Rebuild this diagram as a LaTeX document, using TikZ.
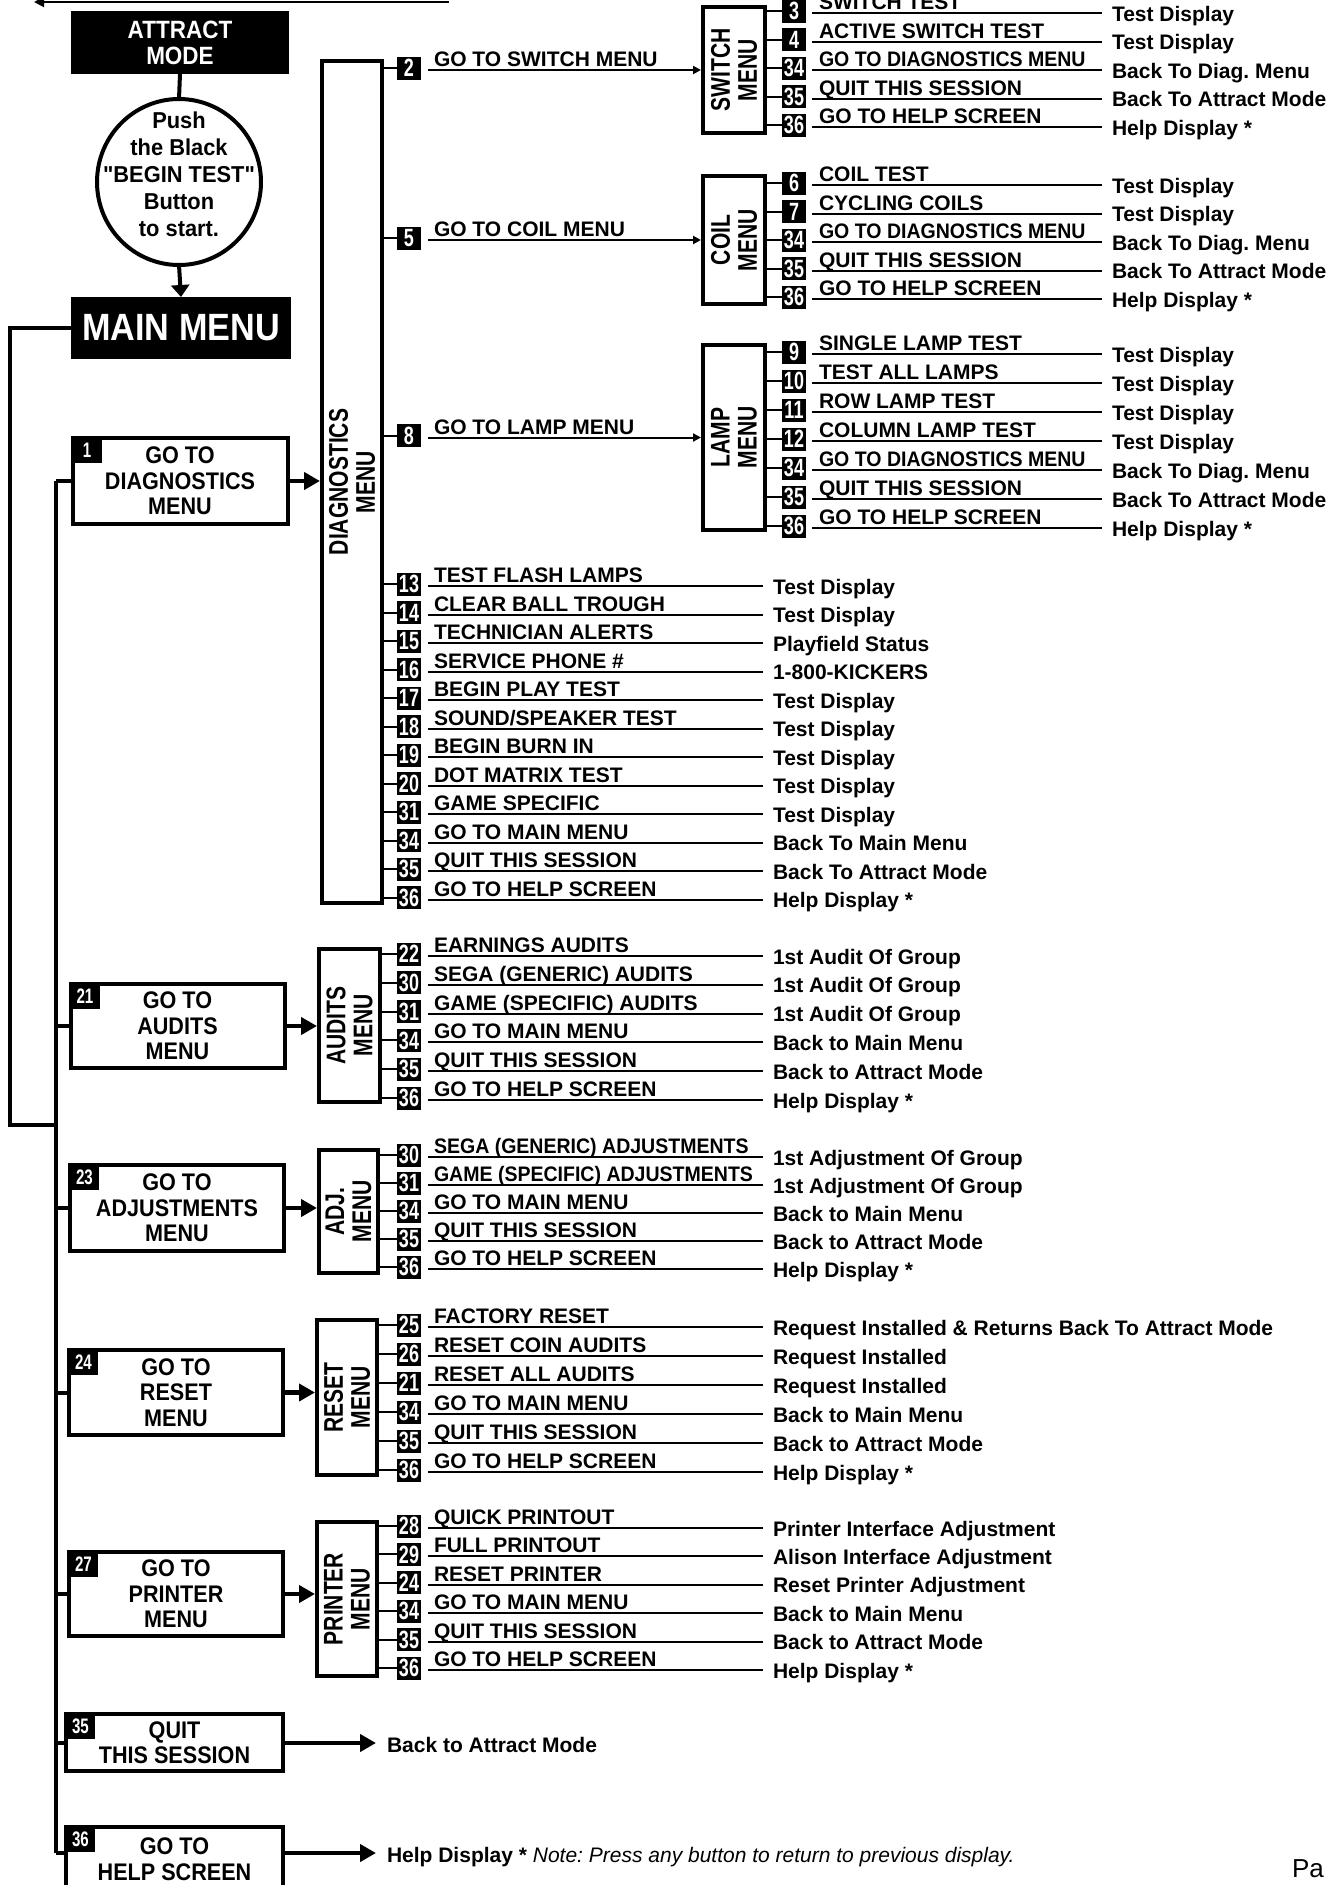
\documentclass[tikz,border=0pt]{standalone}
\usepackage{fontspec}
\setmainfont{Liberation Sans}
\frenchspacing
\newfontfamily\fcA{Liberation Sans}[FakeStretch=0.90]
\newfontfamily\fcB{Liberation Sans}[FakeStretch=0.78]
\newfontfamily\fcC{Liberation Sans}[FakeStretch=0.72]
\newfontfamily\fcD{Liberation Sans}[FakeStretch=0.95]
\newfontfamily\fcE{Liberation Sans}[FakeStretch=0.93]
\usetikzlibrary{arrows.meta,shapes.geometric}
\tikzset{
  every node/.style={inner sep=0pt,outer sep=0pt},
  gobox/.style={draw,line width=4pt,align=center,minimum width=214pt,minimum height=85pt,font=\fcA\bfseries\fontsize{24}{25.5}\selectfont},
  gobadge/.style={fill=black,text=white,anchor=north west,minimum width=29pt,minimum height=25pt,font=\fcC\bfseries\fontsize{21}{21}\selectfont},
  menubox/.style={draw,line width=4pt},
  menulbl/.style={rotate=90,align=center,font=\fcB\bfseries\fontsize{27}{27}\selectfont},
  nbadge/.style={fill=black,text=white,minimum width=24pt,minimum height=23pt,font=\fcC\bfseries\fontsize{25}{25}\selectfont},
  itemtxt/.style={anchor=base west,font=\bfseries\fontsize{21}{21}\selectfont},
  restxt/.style={anchor=base west,font=\bfseries\fontsize{21}{21}\selectfont},
  uline/.style={line width=2pt,shorten >=10pt},
  tickln/.style={line width=2pt},
  conn/.style={line width=4pt,line join=miter},
  bigarr/.style={line width=4.5pt,shorten >=2pt,-{Triangle[length=16pt,width=17pt]}},
  smarr/.style={line width=2pt,shorten >=2pt,-{Triangle[length=8pt,width=8pt]}},
}
\newcommand\mrow[6]{%
  \node[nbadge] (#1n#2) at (\bxc,#3-2) {#4};
  \draw[tickln] (#1n#2.west -| #1.east) -- (#1n#2.west);
  \node[restxt] (#1r#2) at (\rx,#3+8) {#6};
  \coordinate (#1u#2) at (\ulx,#3);
  \draw[uline] (#1u#2) -- (#1u#2 -| #1r#2.west);
  \node[itemtxt] (#1t#2) at (\tx,#3-3.5) {#5};
}
\newcommand\arow[6]{%
  \node[nbadge] (#1n#2) at (\bxc,#3-2) {#4};
  \draw[tickln] (#1n#2.west -| #1.east) -- (#1n#2.west);
  \coordinate (#1u#2) at (\ulx,#3);
  \draw[smarr] (#1u#2) -- (#1u#2 -| #6.west);
  \node[itemtxt] (#1t#2) at (\tx,#3-3.5) {#5};
}
\begin{document}
\begin{tikzpicture}[x=1pt,y=-1pt]
\useasboundingbox (0,0) rectangle (1333,1885);
\fill[white] (0,0) rectangle (1333,1885);

% partial line at the top
\coordinate (topR) at (449,2);
\coordinate (topL) at (34,2);
\draw[line width=2pt,-{Triangle[length=10pt,width=10pt]}] (topR) -- (topL);

% start
\node[fill=black,text=white,minimum width=218pt,minimum height=63pt,align=center,font=\fcA\bfseries\fontsize{25}{26}\selectfont] (attract) at (180,42.5) {ATTRACT\\MODE};
\node[draw,line width=4pt,ellipse,minimum width=164pt,minimum height=166pt] (push) at (179,182) {};
\node[align=center,font=\fcD\bfseries\fontsize{23}{27}\selectfont] (pushtxt) at (179,174) {Push\\the Black\\"BEGIN TEST"\\Button\\to start.};
\node[fill=black,text=white,minimum width=220pt,minimum height=62pt,font=\fcA\bfseries\fontsize{38}{38}\selectfont] (mainmenu) at (181,328) {MAIN MENU};
\draw[conn] (attract.south) -- (push.north);
\draw[line width=4pt,-{Triangle[length=12pt,width=18pt]}] (push.south) -- (mainmenu.north);

% go-to boxes
\node[gobox,minimum width=215pt,minimum height=86pt] (gdiag) at (180,481) {GO TO\\DIAGNOSTICS\\MENU};
\node[gobox,minimum height=84pt] (gaud) at (177.5,1026) {GO TO\\AUDITS\\MENU};
\node[gobox,minimum height=86pt] (gadj) at (177,1208) {GO TO\\ADJUSTMENTS\\MENU};
\node[gobox] (gres) at (176,1392.5) {GO TO\\RESET\\MENU};
\node[gobox,minimum height=84pt] (gpri) at (176,1594) {GO TO\\PRINTER\\MENU};
\node[gobox,minimum width=217pt,minimum height=57pt] (gquit) at (174.5,1742.5) {QUIT\\THIS SESSION};
\node[gobox,minimum width=217pt,minimum height=64pt] (ghelp) at (174.5,1859) {GO TO\\HELP SCREEN};
\node[gobadge] (gdiagb) at (gdiag.north west) {1};
\node[gobadge] (gaudb) at (gaud.north west) {21};
\node[gobadge] (gadjb) at (gadj.north west) {23};
\node[gobadge] (gresb) at (gres.north west) {24};
\node[gobadge] (gprib) at (gpri.north west) {27};
\node[gobadge] (gquitb) at (gquit.north west) {35};
\node[gobadge] (ghelpb) at (ghelp.north west) {36};

% left connectors
\coordinate (ivT) at (56,481);
\coordinate (ivB) at (56,1853);
\coordinate (olA) at (10,328);
\coordinate (olB) at (10,1125);
\coordinate (olC) at (56,1125);
\draw[conn] (mainmenu.west) -- (olA) -- (olB) -- (olC);
\draw[conn] (ivT) -- (ivB);
\draw[conn] (ivT) -- (gdiag.west);
\draw[conn] (gaud.west -| ivT) -- (gaud.west);
\draw[conn] (gadj.west -| ivT) -- (gadj.west);
\draw[conn] (gres.west -| ivT) -- (gres.west);
\draw[conn] (gpri.west -| ivT) -- (gpri.west);
\draw[conn] (gquit.west -| ivT) -- (gquit.west);
\draw[conn] (ivB) -- (ivB -| ghelp.west);

% menu boxes
\node[menubox,minimum width=60pt,minimum height=842pt] (mdg) at (352,482) {};
\node[menulbl] (mdgl) at (mdg) {DIAGNOSTICS\\MENU};
\node[menubox,minimum width=62pt,minimum height=126pt] (msw) at (734,70) {};
\node[menulbl] (mswl) at (msw) {SWITCH\\MENU};
\node[menubox,minimum width=62pt,minimum height=128pt] (mco) at (734,240) {};
\node[menulbl] (mcol) at (mco) {COIL\\MENU};
\node[menubox,minimum width=62pt,minimum height=185pt] (mla) at (734,437.5) {};
\node[menulbl] (mlal) at (mla) {LAMP\\MENU};
\node[menubox,minimum width=61pt,minimum height=153pt] (mau) at (349.5,1025.5) {};
\node[menulbl] (maul) at (mau) {AUDITS\\MENU};
\node[menubox,minimum width=59pt,minimum height=123pt] (mad) at (348.5,1211.5) {};
\node[menulbl] (madl) at (mad) {ADJ.\\MENU};
\node[menubox,minimum width=60pt,minimum height=155pt] (mre) at (347,1397.5) {};
\node[menulbl] (mrel) at (mre) {RESET\\MENU};
\node[menubox,minimum width=60pt,minimum height=154pt] (mpr) at (347,1599) {};
\node[menulbl] (mprl) at (mpr) {PRINTER\\MENU};

% main arrows
\draw[bigarr] (gdiag.east) -- (gdiag.east -| mdg.west);
\draw[bigarr] (gaud.east) -- (gaud.east -| mau.west);
\draw[bigarr] (gadj.east) -- (gadj.east -| mad.west);
\draw[bigarr] (gres.east) -- (gres.east -| mre.west);
\draw[bigarr] (gpri.east) -- (gpri.east -| mpr.west);
\coordinate (qend) at (376,1743);
\coordinate (hend) at (376,1853);
\draw[bigarr,shorten >=0pt] (qend -| gquit.east) -- (qend);
\draw[bigarr,shorten >=0pt] (hend -| ghelp.east) -- (hend);
\node[restxt] (qtxt) at (387,1752) {Back to Attract Mode};
\node[restxt] (htxt) at (387,1862) {Help Display * {\mdseries\itshape\fontsize{21}{21}\selectfont Note: Press any button to return to previous display.}};
\node[anchor=base west,font=\fontsize{26}{26}\selectfont] (pagetxt) at (1292,1877) {Pa};

% diagnostics rows
\def\bxc{409}\def\ulx{428}\def\tx{434}\def\rx{773}
\arow{mdg}{a}{70}{2}{GO TO SWITCH MENU}{msw}
\arow{mdg}{b}{240}{5}{GO TO COIL MENU}{mco}
\arow{mdg}{c}{437.5}{8}{GO TO LAMP MENU}{mla}
\mrow{mdg}{1}{586}{13}{TEST FLASH LAMPS}{Test Display}
\mrow{mdg}{2}{614.5}{14}{CLEAR BALL TROUGH}{Test Display}
\mrow{mdg}{3}{643}{15}{TECHNICIAN ALERTS}{Playfield Status}
\mrow{mdg}{4}{671.5}{16}{SERVICE PHONE \#}{1-800-KICKERS}
\mrow{mdg}{5}{700}{17}{BEGIN PLAY TEST}{Test Display}
\mrow{mdg}{6}{728.5}{18}{SOUND/SPEAKER TEST}{Test Display}
\mrow{mdg}{7}{757}{19}{BEGIN BURN IN}{Test Display}
\mrow{mdg}{8}{785.5}{20}{DOT MATRIX TEST}{Test Display}
\mrow{mdg}{9}{814}{31}{GAME SPECIFIC}{Test Display}
\mrow{mdg}{10}{842.5}{34}{GO TO MAIN MENU}{Back To Main Menu}
\mrow{mdg}{11}{871}{35}{QUIT THIS SESSION}{Back To Attract Mode}
\mrow{mdg}{12}{899.5}{36}{GO TO HELP SCREEN}{Help Display *}

% audits rows
\mrow{mau}{1}{956}{22}{EARNINGS AUDITS}{1st Audit Of Group}
\mrow{mau}{2}{984.8}{30}{SEGA (GENERIC) AUDITS}{1st Audit Of Group}
\mrow{mau}{3}{1013.6}{31}{GAME (SPECIFIC) AUDITS}{1st Audit Of Group}
\mrow{mau}{4}{1042.4}{34}{GO TO MAIN MENU}{Back to Main Menu}
\mrow{mau}{5}{1071.2}{35}{QUIT THIS SESSION}{Back to Attract Mode}
\mrow{mau}{6}{1100}{36}{GO TO HELP SCREEN}{Help Display *}

% adjustments rows
\mrow{mad}{1}{1157}{30}{{\fcE\bfseries SEGA (GENERIC) ADJUSTMENTS}}{1st Adjustment Of Group}
\mrow{mad}{2}{1185}{31}{{\fcE\bfseries GAME (SPECIFIC) ADJUSTMENTS}}{1st Adjustment Of Group}
\mrow{mad}{3}{1213}{34}{GO TO MAIN MENU}{Back to Main Menu}
\mrow{mad}{4}{1241}{35}{QUIT THIS SESSION}{Back to Attract Mode}
\mrow{mad}{5}{1269}{36}{GO TO HELP SCREEN}{Help Display *}

% reset rows
\mrow{mre}{1}{1327}{25}{FACTORY RESET}{Request Installed \& Returns Back To Attract Mode}
\mrow{mre}{2}{1356}{26}{RESET COIN AUDITS}{Request Installed}
\mrow{mre}{3}{1385}{21}{RESET ALL AUDITS}{Request Installed}
\mrow{mre}{4}{1414}{34}{GO TO MAIN MENU}{Back to Main Menu}
\mrow{mre}{5}{1443}{35}{QUIT THIS SESSION}{Back to Attract Mode}
\mrow{mre}{6}{1472}{36}{GO TO HELP SCREEN}{Help Display *}

% printer rows
\mrow{mpr}{1}{1528}{28}{QUICK PRINTOUT}{Printer Interface Adjustment}
\mrow{mpr}{2}{1556.4}{29}{FULL PRINTOUT}{Alison Interface Adjustment}
\mrow{mpr}{3}{1584.8}{24}{RESET PRINTER}{Reset Printer Adjustment}
\mrow{mpr}{4}{1613.2}{34}{GO TO MAIN MENU}{Back to Main Menu}
\mrow{mpr}{5}{1641.6}{35}{QUIT THIS SESSION}{Back to Attract Mode}
\mrow{mpr}{6}{1670}{36}{GO TO HELP SCREEN}{Help Display *}

% sub-menu rows
\def\bxc{794}\def\ulx{812}\def\tx{819}\def\rx{1112}
\mrow{msw}{1}{13}{3}{SWITCH TEST}{Test Display}
\mrow{msw}{2}{41.5}{4}{ACTIVE SWITCH TEST}{Test Display}
\mrow{msw}{3}{70}{34}{{\fcE\bfseries GO TO DIAGNOSTICS MENU}}{Back To Diag. Menu}
\mrow{msw}{4}{98.5}{35}{QUIT THIS SESSION}{Back To Attract Mode}
\mrow{msw}{5}{127}{36}{GO TO HELP SCREEN}{Help Display *}

\mrow{mco}{1}{185}{6}{COIL TEST}{Test Display}
\mrow{mco}{2}{213.5}{7}{CYCLING COILS}{Test Display}
\mrow{mco}{3}{242}{34}{{\fcE\bfseries GO TO DIAGNOSTICS MENU}}{Back To Diag. Menu}
\mrow{mco}{4}{270.5}{35}{QUIT THIS SESSION}{Back To Attract Mode}
\mrow{mco}{5}{299}{36}{GO TO HELP SCREEN}{Help Display *}

\mrow{mla}{1}{354}{9}{SINGLE LAMP TEST}{Test Display}
\mrow{mla}{2}{383}{10}{TEST ALL LAMPS}{Test Display}
\mrow{mla}{3}{412}{11}{ROW LAMP TEST}{Test Display}
\mrow{mla}{4}{441}{12}{COLUMN LAMP TEST}{Test Display}
\mrow{mla}{5}{470}{34}{{\fcE\bfseries GO TO DIAGNOSTICS MENU}}{Back To Diag. Menu}
\mrow{mla}{6}{499}{35}{QUIT THIS SESSION}{Back To Attract Mode}
\mrow{mla}{7}{528}{36}{GO TO HELP SCREEN}{Help Display *}
\end{tikzpicture}
\end{document}
